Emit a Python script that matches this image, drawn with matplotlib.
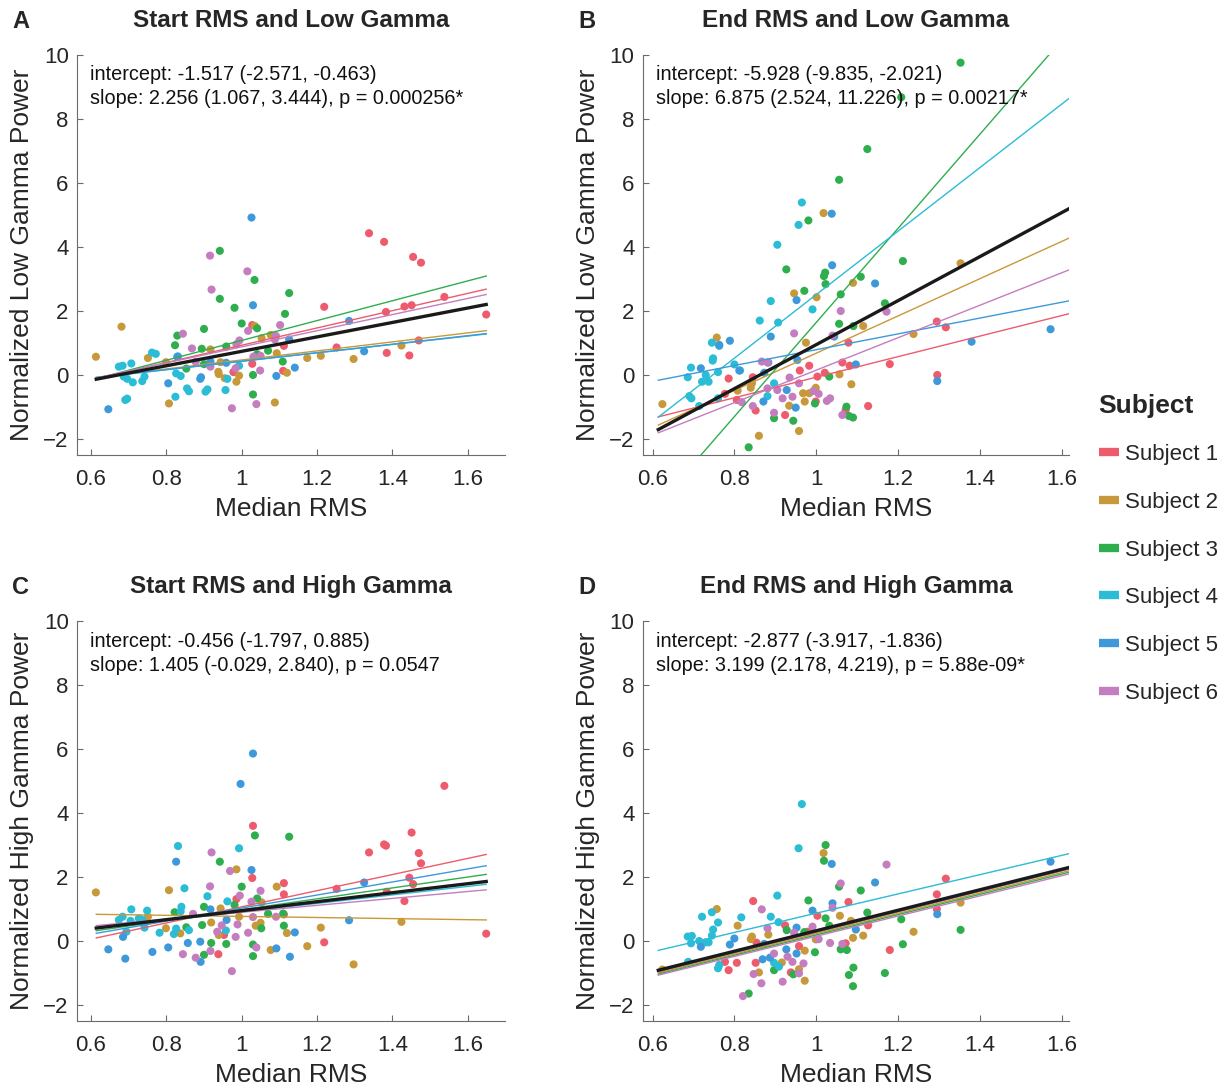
import numpy as np
import matplotlib
matplotlib.use("Agg")
import matplotlib.pyplot as plt
from matplotlib.lines import Line2D

plt.rcParams['font.family'] = ['Liberation Sans', 'DejaVu Sans']

subjects = ['Subject 1', 'Subject 2', 'Subject 3', 'Subject 4', 'Subject 5', 'Subject 6']
colors = ['#EE5B6C', '#C8993A', '#2FAE4E', '#2BBCD6', '#3E99DA', '#C47EBF']

# --- A: Start RMS vs Low Gamma ---
a_x = [
    [1.338, 1.378, 1.455, 1.476, 1.538, 1.219, 1.383, 1.432, 1.451, 1.649, 1.252, 1.385, 1.445, 1.470, 1.028, 1.028, 1.112, 1.110, 0.978],
    [0.613, 0.681, 0.751, 0.807, 0.799, 0.917, 0.944, 0.938, 0.939, 0.955, 0.986, 0.993, 1.035, 1.053, 1.077, 1.093, 1.120, 1.088, 1.174, 1.210, 1.297, 1.424],
    [0.942, 1.034, 0.942, 0.981, 1.126, 1.115, 1.000, 1.041, 0.900, 0.829, 0.823, 0.894, 0.959, 0.900, 0.853, 1.041, 1.070, 1.109, 1.030, 1.030],
    [0.674, 0.684, 0.707, 0.687, 0.696, 0.711, 0.736, 0.742, 0.762, 0.772, 0.831, 0.838, 0.826, 0.824, 0.855, 0.860, 0.904, 0.909, 0.957, 0.962, 0.993, 0.691, 0.696],
    [1.026, 1.030, 1.285, 1.325, 0.646, 0.805, 0.890, 0.892, 0.917, 0.959, 1.092, 1.141, 1.126, 0.829],
    [0.916, 1.015, 0.920, 1.102, 0.844, 0.868, 0.878, 0.917, 0.994, 0.986, 1.017, 1.031, 1.050, 1.091, 1.088, 1.049, 0.974, 1.039, 0.984],
]
a_y = [
    [4.43, 4.16, 3.69, 3.51, 2.44, 2.13, 1.97, 2.14, 2.18, 1.89, 0.86, 0.69, 0.61, 1.08, 1.56, 0.35, 0.91, 0.13, 0.09],
    [0.57, 1.51, 0.53, -0.89, 0.40, 0.80, 0.40, 0.10, 0.03, -0.10, -0.21, -0.02, 1.53, 1.15, 1.25, 0.68, 0.07, -0.86, 0.53, 0.60, 0.50, 0.92],
    [3.88, 2.97, 2.38, 2.10, 2.56, 1.91, 1.61, 1.46, 1.44, 1.23, 0.93, 0.82, 0.89, 0.34, 0.20, 0.65, 0.76, 0.42, 0.00, -0.61],
    [0.26, 0.29, 0.36, -0.05, -0.12, -0.23, -0.19, -0.05, 0.70, 0.66, 0.58, -0.03, 0.05, -0.68, -0.42, -0.51, -0.52, -0.45, -0.47, -0.12, 0.29, -0.78, -0.74],
    [4.92, 2.18, 1.69, 0.74, -1.07, -0.26, -0.12, -0.07, 0.42, 0.38, -0.03, 0.23, 1.11, 0.57],
    [3.73, 3.24, 2.67, 1.56, 1.29, 0.83, 0.41, 0.26, 1.08, 0.96, 1.38, 0.57, 0.60, 1.22, 1.11, 0.14, -1.04, -0.91, 0.21],
]
a_icept = [-1.77, -0.94, -2.02, -0.88, -0.90, -1.64]
a_slope = [2.70, 1.41, 3.10, 1.31, 1.33, 2.52]
a_fit = (-1.517, 2.256)
a_text = ['intercept: -1.517 (-2.571, -0.463)', 'slope: 2.256 (1.067, 3.444), p = 0.000256*']

# --- B: End RMS vs Low Gamma ---
b_x = [
    [1.295, 1.317, 1.296, 1.180, 1.079, 1.064, 1.082, 1.127, 1.072, 1.003, 1.021, 0.983, 0.960, 0.924, 0.852, 0.806, 0.786, 0.777, 0.845, 0.999],
    [1.018, 0.946, 1.001, 1.090, 1.353, 1.238, 1.115, 0.975, 0.757, 0.624, 0.808, 0.840, 0.843, 0.860, 0.958, 0.934, 0.968, 0.983, 0.972, 0.999, 1.057, 1.086],
    [1.353, 1.208, 1.125, 1.056, 0.981, 0.927, 1.212, 1.022, 1.019, 1.023, 1.109, 0.971, 1.060, 1.168, 1.056, 1.091, 1.032, 0.997, 1.074, 1.080, 1.090, 0.897, 0.944, 0.835],
    [0.965, 0.957, 0.905, 0.889, 0.862, 0.907, 0.991, 0.745, 0.748, 0.747, 0.763, 0.760, 0.694, 0.686, 0.730, 0.721, 0.737, 0.800, 0.814, 0.690, 0.695, 0.897, 0.881, 0.760, 0.714],
    [1.038, 1.039, 0.952, 1.144, 1.573, 1.380, 1.296, 1.097, 1.044, 0.889, 0.789, 0.718, 0.763, 0.812, 0.883, 0.873, 0.954, 0.950, 0.871, 0.928],
    [1.060, 1.172, 0.946, 1.040, 0.867, 0.881, 0.935, 0.958, 0.993, 1.006, 1.034, 1.026, 0.918, 0.942, 0.897, 1.064, 0.818, 0.845, 0.881, 0.905],
]
b_y = [
    [1.67, 1.49, 0.00, 0.34, 1.01, 0.39, 0.29, -0.97, -1.09, -0.05, 0.07, 0.29, 0.14, -1.25, -1.11, -0.78, -0.11, -0.59, -0.07, -0.83],
    [5.06, 2.55, 2.43, 2.88, 3.49, 1.28, 1.53, 1.01, 1.17, -0.91, -0.49, -0.40, -0.26, -1.90, -1.75, -0.96, -0.57, -0.57, -0.83, -0.40, 0.02, -0.29],
    [9.76, 8.68, 7.06, 6.10, 4.83, 3.30, 3.56, 3.20, 3.09, 2.84, 3.07, 2.63, 2.52, 2.24, 1.60, 1.53, -0.05, -0.89, -0.99, -1.28, -1.33, -1.35, -1.43, -2.26],
    [5.39, 4.69, 4.07, 2.31, 1.70, 1.64, 2.05, 1.01, 0.52, 0.45, 0.91, 0.09, 0.23, -0.07, 0.00, -0.21, -0.21, 0.33, 0.14, -0.66, -0.73, -0.26, -0.66, -0.73, -0.97],
    [5.04, 3.43, 2.34, 2.86, 1.43, 1.04, -0.19, 0.33, 1.20, 1.20, 1.07, 0.21, 0.94, 0.14, 0.39, 0.07, 0.47, -1.02, -0.83, -0.47],
    [2.00, 1.98, 1.30, 1.23, 0.42, 0.39, -0.08, -0.26, -0.50, -0.59, -0.73, -0.81, -0.73, -0.68, -1.18, -1.25, -0.85, -0.97, -0.42, -0.47],
]
b_icept = [-3.28, -5.14, -13.06, -7.41, -1.68, -4.92]
b_slope = [3.21, 5.82, 14.70, 9.92, 2.47, 5.07]
b_fit = (-5.928, 6.875)
b_text = ['intercept: -5.928 (-9.835, -2.021)', 'slope: 6.875 (2.524, 11.226), p = 0.00217*']

# --- C: Start RMS vs High Gamma ---
c_x = [
    [1.538, 1.030, 1.451, 1.378, 1.383, 1.338, 1.470, 1.476, 1.445, 1.455, 1.252, 1.385, 1.432, 1.649, 1.219, 1.028, 1.112, 1.112, 0.986, 0.938, 0.953, 1.112],
    [0.613, 0.807, 0.751, 0.799, 0.837, 0.919, 0.944, 0.939, 0.986, 0.993, 1.037, 1.050, 1.053, 1.093, 1.077, 1.120, 1.174, 1.210, 1.297, 1.424],
    [1.035, 1.126, 0.942, 1.000, 0.981, 0.900, 0.822, 0.853, 0.895, 0.919, 0.900, 0.959, 1.030, 1.030, 1.041, 1.070, 1.110, 1.112, 1.052],
    [0.831, 0.993, 0.848, 0.909, 0.840, 0.838, 0.707, 0.749, 0.674, 0.684, 0.705, 0.727, 0.736, 0.742, 0.782, 0.820, 0.826, 0.860, 0.962, 0.958, 0.694],
    [1.030, 0.997, 0.826, 1.026, 1.325, 1.285, 1.141, 1.128, 1.092, 0.891, 0.890, 0.857, 0.805, 0.763, 0.691, 0.646, 0.685, 0.917, 0.960],
    [0.920, 0.969, 0.916, 1.050, 0.995, 1.026, 0.871, 0.989, 1.017, 0.947, 0.935, 0.984, 0.844, 0.878, 0.917, 1.039, 0.974, 1.030, 1.091],
]
c_y = [
    [4.85, 3.60, 3.39, 3.02, 2.98, 2.77, 2.75, 2.43, 1.98, 1.78, 1.63, 1.54, 1.25, 0.23, -0.04, 1.97, 1.81, 1.46, 1.31, -0.41, 0.19, 0.83],
    [1.52, 1.59, 0.76, 0.40, 0.24, 0.58, 1.02, 0.19, 2.24, 0.76, 0.48, 0.57, 1.21, 1.70, -0.28, 0.25, -0.16, 0.42, -0.73, 0.60],
    [3.30, 3.26, 2.48, 1.70, 1.13, 1.07, 0.90, 0.43, 0.50, -0.06, -0.43, -0.09, -0.11, -0.47, 1.33, 0.85, 0.86, 0.48, 0.40],
    [2.97, 2.90, 1.65, 1.40, 1.07, 0.93, 0.99, 0.95, 0.66, 0.76, 0.63, 0.71, 0.66, 0.42, 0.26, 0.22, 0.39, 0.34, 1.24, 0.33, 0.29],
    [5.86, 4.91, 2.48, 2.22, 1.83, 0.65, 0.27, -0.49, -0.23, -0.65, -0.02, -0.06, -0.20, -0.34, -0.55, -0.26, 0.13, 0.99, 0.66],
    [2.77, 2.19, 1.71, 1.57, 1.42, 1.23, 0.85, 0.52, 0.26, 0.49, 0.29, 0.13, -0.41, -0.52, -0.31, -0.20, -0.94, 0.75, 0.76],
]
c_icept = [-1.45, 0.94, -0.72, -0.42, -1.01, -0.18]
c_slope = [2.52, -0.17, 1.70, 1.33, 2.04, 1.08]
c_fit = (-0.456, 1.405)
c_text = ['intercept: -0.456 (-1.797, 0.885)', 'slope: 1.405 (-0.029, 2.840), p = 0.0547']

# --- D: End RMS vs High Gamma ---
d_x = [
    [1.317, 1.295, 1.295, 1.079, 1.003, 1.127, 0.924, 0.846, 1.180, 1.072, 0.854, 0.852, 0.806, 0.786, 0.777, 0.938, 0.958, 0.979],
    [1.018, 0.757, 0.808, 1.058, 1.085, 1.353, 1.238, 1.115, 1.090, 0.883, 0.843, 0.840, 0.999, 0.972, 0.958, 0.860, 0.972, 0.916, 0.624],
    [1.023, 1.019, 1.056, 1.109, 0.981, 1.125, 1.023, 1.208, 0.928, 0.971, 1.032, 1.060, 1.075, 1.212, 0.997, 1.353, 1.091, 1.080, 1.168, 1.090, 0.944, 0.897, 0.835],
    [0.965, 0.957, 0.905, 0.889, 0.908, 0.817, 0.721, 0.745, 0.760, 0.748, 0.745, 0.686, 0.696, 0.694, 0.714, 0.730, 0.737, 0.687, 0.760, 0.763, 0.897, 0.909],
    [1.038, 1.144, 1.573, 1.296, 0.991, 1.040, 0.952, 1.097, 0.789, 0.800, 0.718, 0.927, 0.952, 0.869, 0.887, 0.873],
    [1.060, 1.172, 1.040, 0.867, 0.881, 0.991, 1.006, 1.034, 1.064, 0.946, 0.897, 0.930, 0.942, 0.969, 0.847, 0.866, 0.918, 0.958, 0.821],
]
d_y = [
    [1.95, 1.46, 1.00, 1.22, 0.79, 0.49, 0.49, 1.25, -0.28, -0.07, -0.05, -0.68, -0.68, -0.91, -0.65, -0.98, -0.16, 0.29],
    [2.75, 1.00, 0.48, 0.79, 0.63, 1.20, 0.29, 0.17, 0.10, 0.20, 0.14, 0.06, 0.05, -0.30, -0.88, -0.98, -1.24, -0.67, -0.89],
    [3.00, 2.51, 1.70, 1.58, 1.27, 0.89, 0.71, 0.68, 0.34, 0.28, 0.48, -0.26, -0.28, -0.10, -0.35, 0.35, -0.83, -1.06, -1.00, -1.41, -1.04, -0.91, -1.64],
    [4.28, 2.90, 1.42, 0.76, 0.59, 0.74, 0.76, 0.90, 0.58, 0.36, 0.17, 0.14, 0.16, -0.07, 0.00, -0.04, -0.04, -0.65, -0.85, -0.75, -0.68, -0.80],
    [2.41, 1.83, 2.48, 0.84, 0.95, 1.18, 0.42, 0.36, -0.11, 0.08, -0.18, -0.26, -0.39, -0.57, -0.52, -0.09],
    [1.80, 2.39, 1.04, 0.99, 0.40, 0.45, 0.06, -0.06, -0.09, 0.26, -0.39, -0.49, -0.65, -0.70, -1.03, -1.32, -1.27, -1.01, -1.72],
]
d_icept = [-2.93, -2.95, -2.98, -2.14, -2.90, -3.00]
d_slope = [3.20, 3.18, 3.17, 3.01, 3.19, 3.15]
d_fit = (-2.877, 3.199)
d_text = ['intercept: -2.877 (-3.917, -1.836)', 'slope: 3.199 (2.178, 4.219), p = 5.88e-09*']

line_x = np.array([0.614, 1.649])
text_col = '#262626'
axis_col = '#6b6b6b'

fig = plt.figure(figsize=(12.27, 10.89), dpi=100)
panels = [
    ('A', 'Start RMS and Low Gamma', 'Normalized Low Gamma Power', a_x, a_y, a_icept, a_slope, a_fit, a_text,
     [0.0628, 0.5822, 0.3488, 0.3673], (0.563, 1.699)),
    ('B', 'End RMS and Low Gamma', 'Normalized Low Gamma Power', b_x, b_y, b_icept, b_slope, b_fit, b_text,
     [0.5240, 0.5822, 0.3472, 0.3673], (0.5765, 1.618)),
    ('C', 'Start RMS and High Gamma', 'Normalized High Gamma Power', c_x, c_y, c_icept, c_slope, c_fit, c_text,
     [0.0628, 0.0624, 0.3488, 0.3673], (0.563, 1.699)),
    ('D', 'End RMS and High Gamma', 'Normalized High Gamma Power', d_x, d_y, d_icept, d_slope, d_fit, d_text,
     [0.5240, 0.0624, 0.3472, 0.3673], (0.5765, 1.618)),
]

for letter, title, ylab, xs, ys, icepts, slopes, fit, txt, rect, xl in panels:
    ax = fig.add_axes(rect)
    for i in range(6):
        ax.scatter(xs[i], ys[i], s=34, color=colors[i], edgecolors='none', zorder=2)
    for i in range(6):
        ax.plot(line_x, icepts[i] + slopes[i] * line_x, color=colors[i], lw=1.0, zorder=3)
    ax.plot(line_x, fit[0] + fit[1] * line_x, color='#1a1a1a', lw=2.4, zorder=4)

    ax.set_xlim(*xl)
    ax.set_ylim(-2.5, 10)
    ax.set_xticks([0.6, 0.8, 1.0, 1.2, 1.4, 1.6])
    ax.set_xticklabels(['0.6', '0.8', '1', '1.2', '1.4', '1.6'])
    ax.set_yticks([-2, 0, 2, 4, 6, 8, 10])
    for s in ['top', 'right']:
        ax.spines[s].set_visible(False)
    for s in ['left', 'bottom']:
        ax.spines[s].set_color(axis_col)
        ax.spines[s].set_linewidth(0.8)
    ax.tick_params(direction='in', length=4, width=0.8, color=axis_col,
                   labelsize=16, labelcolor=text_col, pad=6)
    ax.tick_params(axis='x', pad=10)
    ax.set_xlabel('Median RMS', fontsize=19, color=text_col, labelpad=5)
    ax.set_ylabel(ylab, fontsize=19, color=text_col, labelpad=7)
    ax.set_title(title, fontsize=17.5, fontweight='bold', color=text_col, pad=20)
    ax.text(0.03, 0.95, txt[0], transform=ax.transAxes, fontsize=14.3, color='#111111', va='center')
    ax.text(0.03, 0.89, txt[1], transform=ax.transAxes, fontsize=14.3, color='#111111', va='center')
    ax.text(rect[0] - 0.046, rect[1] + rect[3] + 0.031, letter, transform=fig.transFigure,
            fontsize=17, fontweight='bold', color=text_col, va='center', ha='center')

handles = [Line2D([], [], color=c, lw=6, solid_capstyle='butt') for c in colors]
leg = fig.legend(handles, subjects, loc='upper left', bbox_to_anchor=(0.879, 0.657),
                 frameon=False, fontsize=16, title='Subject', alignment='left',
                 title_fontproperties={'size': 19, 'weight': 'bold'},
                 handlelength=0.9, handletextpad=0.3, labelspacing=1.2)
for t in leg.get_texts():
    t.set_color(text_col)
leg.get_title().set_color(text_col)

fig.savefig('out.png', dpi=100)
